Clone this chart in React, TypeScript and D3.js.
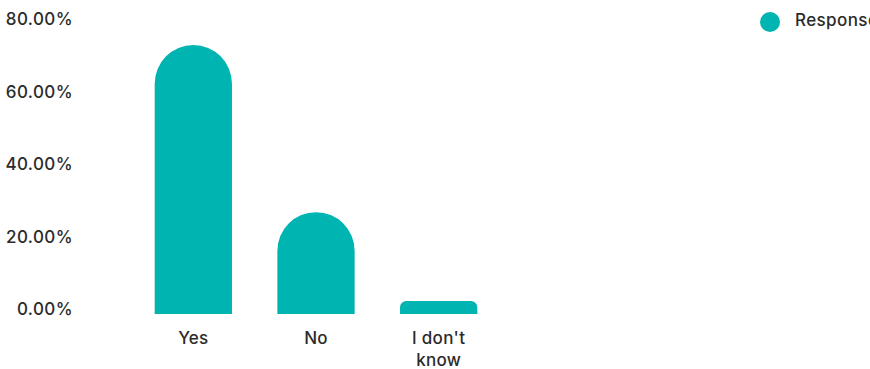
import React from "react";
import * as d3 from "d3";

const categories: string[][] = [["Yes"], ["No"], ["I don't", "know"]];
const values: number[] = [74.2, 28.1, 3.6];
const yTicks: number[] = [0, 20, 40, 60, 80];
const seriesName = "Response";

const W = 870;
const H = 369;
const COLOR = "#00b5b1";
const TEXT = "#2b2b2b";
const FONT = "Inter, 'Noto Sans', sans-serif";
const FS = 17;

export default function App() {
  const y = d3.scaleLinear().domain([0, 80]).range([314, 24]);
  const x = d3
    .scaleBand<number>()
    .domain(categories.map((_, i) => i))
    .range([132, 500])
    .padding(0);
  const barW = x.bandwidth() * 0.63;

  const barPath = (v: number, i: number) => {
    const cx = (x(i) ?? 0) + x.bandwidth() / 2;
    const x0 = cx - barW / 2;
    const x1 = cx + barW / 2;
    const yb = y(0);
    const yt = y(v);
    const h = yb - yt;
    const r = Math.min(barW / 2, h / 2);
    const p = d3.path();
    p.moveTo(x0, yb);
    p.lineTo(x0, yt + r);
    p.arcTo(x0, yt, x0 + r, yt, r);
    p.lineTo(x1 - r, yt);
    p.arcTo(x1, yt, x1, yt + r, r);
    p.lineTo(x1, yb);
    p.closePath();
    return p.toString();
  };

  return (
    <svg
      width={W}
      height={H}
      style={{ position: "absolute", left: 0, top: 0, background: "#fff", overflow: "hidden" }}
      fontFamily={FONT}
    >
      {yTicks.map((t) => (
        <text
          key={t}
          x={73}
          y={y(t) - 5}
          textAnchor="end"
          dominantBaseline="central"
          fontSize={FS}
          fontWeight={500}
          letterSpacing={0.4}
          fill={TEXT}
        >
          {t.toFixed(2)}%
        </text>
      ))}
      {values.map((v, i) => (
        <path key={i} d={barPath(v, i)} fill={COLOR} />
      ))}
      {categories.map((lines, i) => {
        const cx = (x(i) ?? 0) + x.bandwidth() / 2;
        return (
          <text
            key={i}
            textAnchor="middle"
            fontSize={FS}
            fontWeight={500}
            letterSpacing={0.3}
            fill={TEXT}
          >
            {lines.map((l, j) => (
              <tspan key={j} x={cx} y={344 + j * 22}>
                {l}
              </tspan>
            ))}
          </text>
        );
      })}
      <circle cx={770} cy={22} r={10} fill={COLOR} />
      <text
        x={795}
        y={20}
        dominantBaseline="central"
        fontSize={FS}
        fontWeight={500}
        letterSpacing={0.4}
        fill={TEXT}
      >
        {seriesName}
      </text>
    </svg>
  );
}
